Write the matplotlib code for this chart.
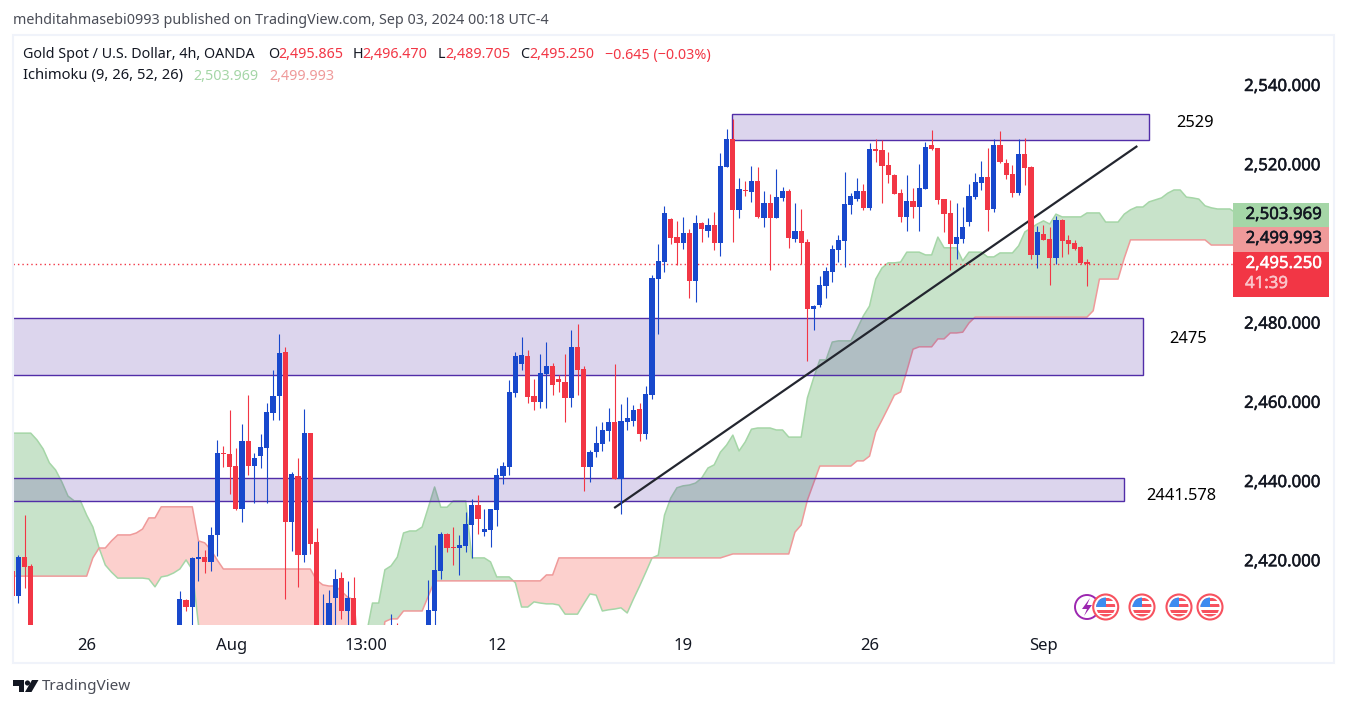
import numpy as np
import matplotlib
matplotlib.use("Agg")
from matplotlib import pyplot as plt
from matplotlib import patheffects
from matplotlib.patches import Rectangle, Circle, Polygon
from matplotlib.transforms import ScaledTranslation

plt.rcParams['font.family'] = ['Noto Sans', 'DejaVu Sans']

nan = np.nan

# candles, 4h bars, the ones under the bottom edge of the picture are nan
opens = [2417.8, 2411.5, 2421.3, 2419.0] + [nan]*23 + [2400, 2410.5, 2408.7,
    2420.8, 2421.3, 2420.1, 2426.9, 2447.6, 2447.3, 2444.3, 2433.4, 2450.6, 2444.3,
    2446.8, 2448.9, 2457.7, 2462.0, 2473.1, 2430.2, 2441.8, 2421.8, 2452.6, 2425.1,
    2395, 2398, 2411.0, 2416.0, 2407.7, 2411.0] + [nan]*5 + [2395, 2403] + [nan]*4 + [2398, 2407.7, 2417.8,
    2427.1, 2423.8, 2423.6, 2424.1, 2429.4, 2434.5, 2427.6, 2428.1, 2433.2, 2441.8,
    2444.1, 2462.8, 2470.1, 2472.1, 2462.0, 2460.5, 2467.5, 2469.6, 2466.3, 2465.5,
    2461.5, 2474.4, 2468.8, 2444.1, 2447.8, 2449.9, 2453.1, 2455.4, 2441.0, 2455.4,
    2455.7, 2458.7, 2452.4, 2462.2, 2491.5, 2495.8, 2506.7, 2502.1, 2500.6, 2503.1,
    2491.0, 2505.7, 2503.6, 2505.2, 2500.6, 2519.8, 2526.9, 2509.0, 2514.0, 2513.5,
    2516.3, 2506.9, 2510.7, 2506.9, 2512.0, 2513.8, 2501.6, 2503.6, 2500.9, 2484.0,
    2485.0, 2489.8, 2493.3, 2498.8, 2501.1, 2510.2, 2511.7, 2513.8, 2509.5, 2524.3,
    2524.1, 2520.3, 2517.8, 2513.2, 2507.2, 2511.2, 2509.7, 2514.3, 2525.4, 2524.6,
    2511.7, 2508.2, 2500.4, 2501.6, 2505.9, 2512.2, 2515.8, 2517.3, 2509.2, 2525.4,
    2520.8, 2518.0, 2513.2, 2523.1, 2519.8, 2497.6, 2502.9, 2501.6, 2496.8, 2506.4,
    2501.4, 2500.6, 2499.6, 2495.865]

closes = [2411.5, 2421.3, 2418.8, 2398] + [nan]*23 + [2410.7, 2408.7, 2421.1,
    2421.3, 2420.1, 2426.9, 2447.6, 2447.3, 2444.1, 2433.4, 2450.6, 2444.3, 2446.3,
    2449.1, 2458.0, 2462.0, 2472.8, 2430.2, 2442.3, 2421.8, 2452.6, 2424.6, 2398,
    2403, 2409.7, 2415.8, 2407.7, 2411.0, 2400] + [nan]*5 + [2402, 2397] + [nan]*4 + [2408.0, 2418.1, 2427.1,
    2423.6, 2423.6, 2424.4, 2429.7, 2434.5, 2430.9, 2428.4, 2433.4, 2442.0, 2444.3,
    2463.0, 2472.1, 2472.3, 2461.7, 2460.5, 2467.8, 2469.6, 2464.8, 2465.5, 2461.5,
    2474.4, 2468.6, 2444.1, 2447.8, 2450.1, 2453.4, 2455.4, 2441.0, 2455.7, 2456.4,
    2458.5, 2452.4, 2462.5, 2491.8, 2496.1, 2508.2, 2501.9, 2500.6, 2503.1, 2491.0,
    2505.7, 2504.1, 2505.2, 2500.6, 2520.0, 2526.9, 2509.0, 2514.3, 2513.8, 2516.3,
    2507.2, 2510.7, 2506.9, 2512.2, 2513.8, 2501.9, 2503.6, 2500.6, 2484.0, 2484.7,
    2490.0, 2493.6, 2499.1, 2501.4, 2510.5, 2512.5, 2513.8, 2509.5, 2524.3, 2523.8,
    2520.0, 2517.8, 2513.0, 2507.2, 2511.2, 2509.7, 2514.5, 2524.8, 2524.3, 2511.5,
    2507.9, 2500.4, 2502.1, 2504.7, 2512.5, 2516.0, 2517.3, 2509.0, 2525.4, 2521.1,
    2517.8, 2513.2, 2523.1, 2519.5, 2497.6, 2503.4, 2501.4, 2496.8, 2506.4, 2501.1,
    2500.4, 2499.1, 2495.6, 2495.25]

highs = [2418.5, 2421.8, 2431.9, 2419.6] + [nan]*23 + [2412.7, 2410.7, 2421.3,
    2425.4, 2423.1, 2428.9, 2450.9, 2449.4, 2458.5, 2448.9, 2454.9, 2462.2, 2447.6,
    2452.4, 2460.2, 2468.6, 2477.6, 2474.4, 2442.8, 2446.3, 2458.7, 2452.6, 2428.6,
    2412.0, 2413.0, 2418.3, 2417.6, 2415.3, 2416.3] + [nan]*5 + [2406.9, 2404.7] + [nan]*4 + [2415.5, 2424.4, 2427.6,
    2427.4, 2428.9, 2426.9, 2432.7, 2436.0, 2437.0, 2433.4, 2433.4, 2443.8, 2445.3,
    2466.0, 2473.1, 2476.9, 2473.6, 2466.3, 2472.6, 2475.6, 2470.3, 2467.3, 2472.6,
    2478.6, 2480.2, 2469.6, 2448.4, 2454.4, 2455.4, 2459.0, 2470.1, 2460.0, 2461.7,
    2459.7, 2460.2, 2464.5, 2492.5, 2500.4, 2510.0, 2506.9, 2506.2, 2507.2, 2504.1,
    2507.7, 2505.9, 2506.9, 2508.5, 2523.3, 2529.4, 2531.9, 2517.0, 2516.3, 2520.0,
    2519.8, 2513.8, 2513.0, 2519.3, 2514.8, 2514.3, 2510.7, 2509.2, 2501.6, 2485.0,
    2492.3, 2494.6, 2500.1, 2502.6, 2518.5, 2513.2, 2517.0, 2515.5, 2525.9, 2526.9,
    2526.6, 2523.6, 2518.0, 2514.3, 2517.8, 2514.5, 2520.6, 2526.1, 2529.1, 2524.6,
    2511.7, 2511.5, 2510.7, 2509.7, 2515.5, 2518.3, 2521.3, 2524.6, 2526.9, 2528.9,
    2521.8, 2520.3, 2526.9, 2527.1, 2520.0, 2504.9, 2505.2, 2504.7, 2507.4, 2506.7,
    2502.6, 2501.4, 2499.9, 2496.47]

lows = [2410.5, 2409.7, 2413.5, 2396] + [nan]*23 + [2397, 2407.7, 2401,
    2415.3, 2417.3, 2417.8, 2421.6, 2444.1, 2437.2, 2433.2, 2430.2, 2442.0, 2434.9,
    2443.8, 2434.9, 2455.9, 2455.9, 2410.7, 2422.8, 2413.8, 2420.1, 2422.1, 2396,
    2394, 2396, 2402, 2405.7, 2402, 2398] + [nan]*5 + [2393, 2395] + [nan]*4 + [2395, 2402, 2415.8,
    2422.6, 2419.3, 2416.8, 2422.6, 2421.1, 2427.1, 2426.6, 2423.8, 2429.2, 2439.8,
    2442.0, 2461.7, 2468.6, 2460.2, 2458.5, 2459.0, 2459.0, 2462.2, 2463.0, 2455.4,
    2459.2, 2462.2, 2438.0, 2440.3, 2446.6, 2448.1, 2450.6, 2441.0, 2432.2, 2453.4,
    2454.4, 2450.6, 2451.1, 2461.2, 2477.6, 2493.3, 2500.4, 2495.1, 2499.1, 2486.7,
    2485.7, 2500.9, 2502.1, 2498.8, 2497.4, 2519.8, 2500.9, 2506.9, 2512.5, 2511.0,
    2506.9, 2504.7, 2493.8, 2506.9, 2511.2, 2499.4, 2500.9, 2495.3, 2470.8, 2478.6,
    2484.4, 2486.7, 2490.8, 2495.8, 2494.6, 2507.9, 2511.2, 2509.0, 2509.0, 2521.1,
    2510.7, 2515.8, 2513.0, 2505.9, 2503.6, 2506.9, 2503.6, 2514.3, 2524.1, 2510.5,
    2503.4, 2493.8, 2496.6, 2500.6, 2504.9, 2511.7, 2514.0, 2503.6, 2508.5, 2520.8,
    2516.8, 2512.2, 2512.7, 2515.3, 2496.6, 2494.3, 2501.4, 2490.0, 2495.3, 2497.1,
    2497.9, 2498.8, 2495.3, 2489.705]

# ichimoku spans, one value per bar (cloud runs on past the last candle)
span_a = [2452.6]*4 + [2450.9, 2448.6, 2445.1, 2443.3, 2440.3, 2436.7,
    2435.5, 2435.5, 2431.9, 2428.9, 2423.6, 2419.3, 2417.5, 2416.0, 2416.0, 2416.0,
    2416.0, 2416.0, 2415.8, 2413.8, 2416.3, 2416.6, 2417.3, 2418.3, 2420.6, 2418.1,
    2404.2] + [2395]*26 + [2401.6, 2409.7, 2409.7,
    2418.1, 2419.1, 2421.3, 2427.4, 2427.9, 2427.9, 2428.9, 2433.9, 2439.0, 2433.9,
    2433.9, 2435.5, 2435.5, 2435.5, 2421.1, 2421.1, 2421.1, 2420.1, 2416.3, 2416.3,
    2416.3, 2414.8, 2408.7, 2408.7, 2410.0, 2409.7, 2409.5, 2409.5, 2409.2, 2406.9,
    2406.9, 2406.9, 2409.5, 2412.0, 2411.7, 2407.7, 2408.0, 2408.2, 2408.5, 2407.2,
    2410.7, 2414.0, 2417.5, 2421.1, 2421.8, 2431.9, 2436.2, 2438.8, 2439.3, 2439.5,
    2440.0, 2441.3, 2443.8, 2444.6, 2447.8, 2449.6, 2452.1, 2448.1, 2450.4, 2453.6,
    2453.9, 2453.9, 2453.9, 2453.4, 2453.4, 2451.6, 2451.6, 2451.6, 2461.5, 2466.5,
    2471.1, 2471.1, 2475.6, 2475.9, 2475.9, 2475.9, 2478.9, 2482.2, 2484.7, 2491.5,
    2494.3, 2495.6, 2495.6, 2495.8, 2498.3, 2498.3, 2498.3, 2497.6, 2497.6, 2502.1,
    2499.4, 2499.4, 2499.4, 2496.1, 2498.3, 2498.3, 2498.3, 2497.1, 2497.1, 2498.1,
    2498.1, 2498.1, 2499.9, 2503.4, 2504.4, 2505.4, 2506.2, 2505.4, 2507.9, 2507.2,
    2507.2, 2507.2, 2507.2, 2508.2, 2508.2, 2508.2, 2505.9, 2505.9, 2505.9, 2507.9,
    2509.0, 2509.7, 2509.7, 2511.0, 2511.5, 2512.0, 2513.2, 2514.0, 2514.0, 2512.2,
    2512.0, 2511.7, 2510.0, 2509.5, 2509.2, 2509.2, 2509.2, 2508.2]

span_b = [2416.5]*13 + [2421.1, 2423.6, 2423.6, 2425.4, 2426.9, 2426.9, 2426.9,
    2427.4, 2428.4, 2431.2, 2431.2] + [2434.0]*6 + [2425.4, 2424.9, 2423.1, 2420.6] + [2418.3]*15 + [2415.5,
    2414.3, 2414.0, 2414.0, 2412.7, 2411.2, 2410.5, 2394.0, 2392.8, 2392.8, 2392.8,
    2405.0, 2405.7, 2405.7, 2407.7, 2407.7, 2407.7, 2407.7, 2411.5] + [2415.3]*18 + [2416.8, 2416.8] + [2421.1]*27 + [2421.6] + [2422.1]*10 + [2427.6, 2429.4, 2435.7, 2440.0] + [2444.3]*6 + [2445.6, 2445.6, 2446.8, 2452.9, 2455.9, 2459.0, 2462.2, 2463.0, 2468.3, 2473.8,
    2474.4, 2474.4, 2474.4, 2476.4, 2476.4, 2477.9, 2477.9, 2478.1, 2480.4] + [2481.9]*19 + [2483.5] + [2491.5]*4 + [2496.8] + [2501.4]*13 + [2500.1]*5

# drawn boxes and trend line: (bar, price)
zone_tops = [2533.2, 2481.8, 2441.3]
zone_bottoms = [2526.6, 2467.2, 2435.5]
zone_lefts = [115.9, -5, -5]
zone_rights = [183.0, 182.0, 179.0]
zone_labels = ["2529", "2475", "2441.578"]
trend_x = [96.9, 181.1]
trend_y = [2433.7, 2525.1]
last_close = 2495.25

tick_prices = [2420, 2440, 2460, 2480, 2520, 2540]
tick_texts = ["2,420.000", "2,440.000", "2,460.000", "2,480.000", "2,520.000", "2,540.000"]
tick_bars = [12, 35.4, 57, 78, 108, 138, 166]
tick_names = ["26", "Aug", "13:00", "12", "19", "26", "Sep"]

BLUE = '#1848CC'
RED = '#F23645'
TEXT = '#131722'
W, H = 1347, 708

fig = plt.figure(figsize=(W/100, H/100), dpi=100, facecolor='white')

# page level things are placed in pixels of the picture
page = fig.add_axes([0, 0, 1, 1], zorder=5)
page.set_xlim(0, W)
page.set_ylim(H, 0)
page.axis('off')
page.patch.set_alpha(0)

ax = fig.add_axes([13/W, 1 - 625/H, (1233 - 13)/W, (625 - 35)/H], zorder=1)
ax.set_xlim(0.145, 196.5)
ax.set_ylim(2404.16, 2553.13)
for s in ax.spines.values():
    s.set_visible(False)

# cloud
xc = np.arange(len(span_a))
a = np.array(span_a)
b = np.array(span_b)
ax.fill_between(xc, a, b, where=a >= b, interpolate=True, color='#C8E3CA', lw=0, zorder=1)
ax.fill_between(xc, a, b, where=a < b, interpolate=True, color='#FCD0CD', lw=0, zorder=1)
ax.plot(xc, a, color='#A5D6A7', lw=1.1, zorder=2)
ax.plot(xc, b, color='#EF9A9A', lw=1.1, zorder=2)

# boxes
for t, bt, l, r in zip(zone_tops, zone_bottoms, zone_lefts, zone_rights):
    ax.add_patch(Rectangle((l, bt), r - l, t - bt, facecolor='#512DA8', alpha=0.2, lw=0, zorder=3))
    ax.add_patch(Rectangle((l, bt), r - l, t - bt, fill=False, edgecolor='#512DA8', lw=1.0, zorder=3))

ax.plot(trend_x, trend_y, color='#23262F', lw=1.6, zorder=4, solid_capstyle='butt')
ax.axhline(last_close, color=RED, lw=1.0, ls=(0, (1, 2.2)), zorder=4)

# candles
o = np.array(opens)
c = np.array(closes)
hi = np.array(highs)
lo = np.array(lows)
xs = np.arange(len(o))
cols = [BLUE if cc >= oo else RED for oo, cc in zip(o, c)]
wicks = ax.vlines(xs, lo, hi, colors=cols, lw=0.8, zorder=5)
wicks.set_snap(True)
ax.bar(xs, np.maximum(np.abs(c - o), 0.3), bottom=np.minimum(o, c), width=0.84, color=cols, lw=0, zorder=6)

# axes text
heavy = [patheffects.withStroke(linewidth=0.35, foreground=TEXT)]
ax.yaxis.tick_right()
ax.set_yticks(tick_prices)
ax.set_yticklabels(tick_texts)
ax.set_xticks(tick_bars)
ax.set_xticklabels(tick_names)
ax.tick_params(axis='y', length=0, pad=8, labelsize=12.1, labelcolor=TEXT)
ax.tick_params(axis='x', length=0, pad=9, labelsize=12, labelcolor=TEXT)
up = ScaledTranslation(0, 0.02, fig.dpi_scale_trans)
for tick in ax.yaxis.get_major_ticks():
    tick.label2.set_transform(tick.label2.get_transform() + up)
    tick.label2.set_path_effects(heavy)

for txt, px, py in zip(zone_labels, [1195, 1188, 1181], [123, 339, 496]):
    page.text(px, py, txt, ha='center', va='center', fontsize=11.8, color='black')

# frame round the chart
page.add_patch(Rectangle((13, 35), 1321, 628, fill=False, edgecolor='#F0F3FA', lw=1.5))

# header
page.text(13, 21, "mehditahmasebi0993 published on TradingView.com, Sep 03, 2024 00:18 UTC-4",
          fontsize=10.3, color='#4a4d57', va='center')
page.text(23, 55, "Gold Spot / U.S. Dollar, 4h, OANDA", fontsize=10.3, color=TEXT, va='center')
for s, px in zip(["O", "H", "L", "C"], [268, 353, 438, 520]):
    page.text(px, 55, s, fontsize=10.3, color=TEXT, va='center')
for s, px in zip(["2,495.865", "2,496.470", "2,489.705", "2,495.250", "\u22120.645 (\u22120.03%)"],
                 [278, 362, 445, 529, 605]):
    page.text(px, 55, s, fontsize=10.3, color=RED, va='center')
page.text(23, 76, "Ichimoku (9, 26, 52, 26)", fontsize=10.6, color=TEXT, va='center')
page.text(193, 76, "2,503.969", fontsize=10.3, color='#A5D6A7', va='center')
page.text(269, 76, "2,499.993", fontsize=10.3, color='#EF9A9A', va='center')

# price labels on the scale
page.add_patch(Rectangle((1233, 203), 96, 24, color='#A5D6A7', lw=0))
page.add_patch(Rectangle((1233, 227), 96, 25, color='#EF9A9A', lw=0))
page.add_patch(Rectangle((1233, 252), 96, 45, color=RED, lw=0))
page.text(1322, 215, "2,503.969", ha='right', va='center', fontsize=12.1, color=TEXT, path_effects=heavy)
page.text(1322, 239, "2,499.993", ha='right', va='center', fontsize=12.1, color=TEXT, path_effects=heavy)
page.text(1322, 264, "2,495.250", ha='right', va='center', fontsize=12.1, color='white',
          path_effects=[patheffects.withStroke(linewidth=0.35, foreground='white')])
page.text(1245, 284, "41:39", ha='left', va='center', fontsize=12.1, color='#FBC4C9',
          path_effects=[patheffects.withStroke(linewidth=0.35, foreground='#FBC4C9')])

# event icons
page.add_patch(Circle((1087, 607), 12, fill=False, edgecolor='#9C27B0', lw=1.4))
page.add_patch(Polygon([(1090, 598), (1082, 609), (1087, 609), (1084, 616), (1092, 605), (1087, 605)],
                       color='#9C27B0', lw=0))
for cx in [1105.7, 1142, 1179, 1210]:
    page.add_patch(Circle((cx, 607), 12.5, facecolor='white', edgecolor='#F7525F', lw=1.5))
    flag = Circle((cx, 607), 9.5, facecolor='white', edgecolor='none')
    page.add_patch(flag)
    for sy, sh in [(598, 3), (604, 3), (610, 3), (614, 2.5)]:
        r = Rectangle((cx - 10, sy), 20, sh, color='#F7525F', lw=0)
        page.add_patch(r)
        r.set_clip_path(flag)
    r = Rectangle((cx - 10, 597), 10, 10, color='#3D8BEF', lw=0)
    page.add_patch(r)
    r.set_clip_path(flag)

# logo
page.add_patch(Polygon([(13, 680), (24, 680), (24, 692), (18.5, 692), (18.5, 685.5), (13, 685.5)], color='#131722', lw=0))
page.add_patch(Circle((27.5, 683), 2.6, color='#131722', lw=0))
page.add_patch(Polygon([(32, 680), (38.5, 680), (31.5, 692), (25, 692)], color='#131722', lw=0))
page.text(42, 686, "TradingView", fontsize=11, color='#4a4d57', va='center')

fig.savefig("out.png", dpi=100)
